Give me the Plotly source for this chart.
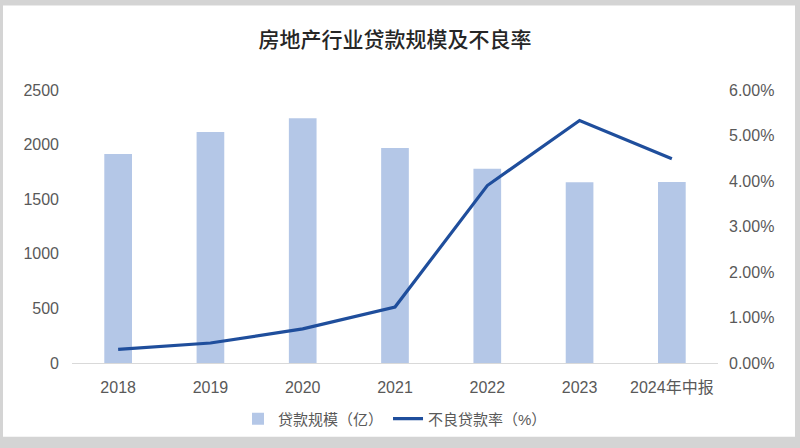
import plotly.graph_objects as go

categories = ["2018", "2019", "2020", "2021", "2022", "2023", "2024年中报"]
loan_scale = [1915, 2116, 2242, 1969, 1778, 1655, 1657]
npl_rate = [0.30, 0.44, 0.75, 1.23, 3.90, 5.33, 4.49]

FONT = "Liberation Sans, Noto Sans CJK SC, sans-serif"
TFONT = "Noto Sans CJK SC, sans-serif"
TICK = "#595959"

fig = go.Figure()
fig.add_trace(go.Bar(
    x=categories, y=loan_scale, name="贷款规模（亿）",
    marker=dict(color="#B4C7E7", line=dict(width=0)),
    width=0.3, yaxis="y",
))
fig.add_trace(go.Scatter(
    x=categories, y=npl_rate, name="不良贷款率（%）",
    mode="lines", line=dict(color="#1F4E9C", width=3.2),
    yaxis="y2",
))

W, H = 800, 448
L, R, T, B = 72, 82, 90, 80
pw, ph = W - L - R, H - T - B

def px_x(p):
    return (p - L) / pw

def px_y(p):
    return (H - B - p) / ph

fig.update_layout(
    width=W, height=H,
    margin=dict(l=L, r=R, t=T, b=B),
    paper_bgcolor="#D4D4D4",
    plot_bgcolor="rgba(0,0,0,0)",
    font=dict(family=FONT, size=16, color=TICK),
    title=dict(text="房地产行业贷款规模及不良率", x=0.5, xref="paper", xanchor="center",
               y=1 - 40 / H, yanchor="middle", yref="container",
               font=dict(family=TFONT, size=21, color="#262626", weight=500)),
    showlegend=True,
    legend=dict(orientation="h", x=0.5, xanchor="center", y=px_y(425), yanchor="middle",
                font=dict(family=FONT, size=15, color=TICK), bgcolor="rgba(0,0,0,0)",
                itemwidth=30),
    xaxis=dict(showgrid=False, showline=True, linecolor="#D9D9D9", linewidth=1,
               ticks="", tickfont=dict(size=16, color=TICK), ticklabelstandoff=10),
    yaxis=dict(range=[0, 2500], dtick=500, showgrid=False, zeroline=False,
               showline=False, ticks="", tickfont=dict(size=16, color=TICK),
               ticklabelstandoff=12),
    yaxis2=dict(range=[0, 6], dtick=1, overlaying="y", side="right", showgrid=False,
                zeroline=False, showline=False, ticks="", tickformat=".2f", ticksuffix="%",
                tickfont=dict(size=16, color=TICK), ticklabelstandoff=10),
    bargap=0.7,
    shapes=[dict(type="rect", xref="paper", yref="paper", layer="below",
                 x0=px_x(3), x1=px_x(795), y0=px_y(443), y1=px_y(4),
                 fillcolor="white", line=dict(width=0))],
)

fig.write_html("out.html")
